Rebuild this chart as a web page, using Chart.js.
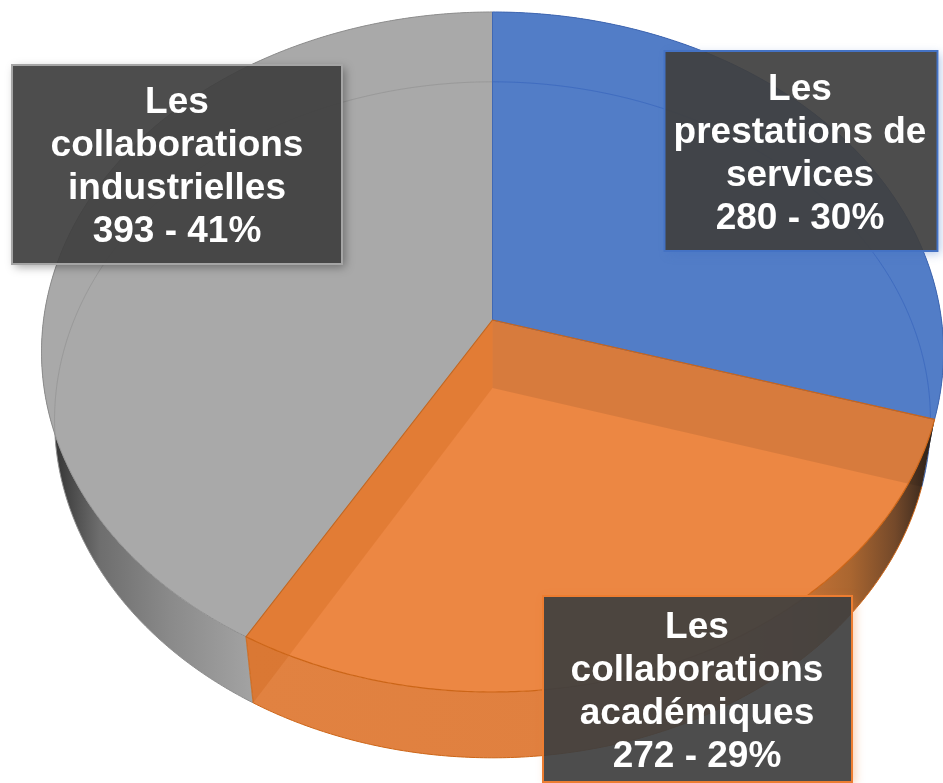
<!DOCTYPE html>
<html lang="fr">
<head>
<meta charset="utf-8">
<style>html,body{margin:0;padding:0;background:#fff;overflow:hidden}canvas{display:block}</style>
<script src="https://cdn.jsdelivr.net/npm/chart.js@4/dist/chart.umd.min.js"></script>
</head>
<body>
<canvas id="c" width="943" height="783"></canvas>
<script>
const categories = ["Les prestations de services", "Les collaborations académiques", "Les collaborations industrielles"];
const values = [280, 272, 393];
const percents = [30, 29, 41];
const labelLines = [["Les", "prestations de", "services"], ["Les", "collaborations", "académiques"], ["Les", "collaborations", "industrielles"]];
const faceColors = ["#527dc7", "#ec8743", "#a9a9a9"];
const edgeColors = ["#4068b4", "#cc6517", "#8e8e8e"];
const boxBorders = ["#4472c4", "#ed7d31", "#a5a5a5"];
const boxes = [[664.5, 51, 273, 200, 800], [543, 596, 309, 186, 697], [12, 65, 330, 199, 177]];
const textTops = [99.5, 638, 113];

// perspective view of the pie disc
const K = -0.0941;
const topDisc = {x: 492.5, y: 320, b: 449, a: 337};
const lowDisc = {x: 492.5, y: 388, b: 436, a: 335};
function project(d, a) {
  const u = Math.cos(a), v = Math.sin(a), w = 1 + K * v;
  return [d.x + d.b * u / w, d.y + d.a * v / w];
}
function rim(ctx, d, a0, a1, first) {
  const n = Math.max(2, Math.ceil(Math.abs(a1 - a0) / 0.008));
  for (let i = 0; i <= n; i++) {
    const p = project(d, a0 + (a1 - a0) * i / n);
    if (i === 0 && first) ctx.moveTo(p[0], p[1]); else ctx.lineTo(p[0], p[1]);
  }
}
function hGrad(ctx, stops) {
  const g = ctx.createLinearGradient(40, 0, 940, 0);
  stops.forEach(s => g.addColorStop((s[0] - 40) / 900, s[1]));
  return g;
}
const wallStops = [
  [[40, "#1f2a44"], [900, "#2a3a60"], [940, "#1a2338"]],
  [[250, "#e18241"], [720, "#e07f3e"], [790, "#cc7638"], [850, "#aa6630"], [895, "#74492a"], [925, "#3b2a1e"], [940, "#2a2018"]],
  [[40, "#2c2c2c"], [62, "#3e3e3e"], [100, "#6e6e6e"], [170, "#8a8a8a"], [250, "#a2a2a2"]]
];
function sector(ctx, d, a0, a1) {
  ctx.beginPath();
  ctx.moveTo(d.x, d.y);
  rim(ctx, d, a0, a1, false);
  ctx.closePath();
}
function radialWall(ctx, a) {
  const t = project(topDisc, a), l = project(lowDisc, a);
  ctx.beginPath();
  ctx.moveTo(topDisc.x, topDisc.y);
  ctx.lineTo(lowDisc.x, lowDisc.y);
  ctx.lineTo(l[0], l[1]);
  ctx.lineTo(t[0], t[1]);
  ctx.closePath();
}

const pie3d = {
  id: "pie3d",
  beforeDatasetDraw(chart, args) {
    const ctx = chart.ctx, arcs = args.meta.data;
    ctx.save();
    ctx.lineJoin = "round";
    // outer side walls
    arcs.forEach((arc, i) => {
      const s = arc.startAngle, e = arc.endAngle;
      ctx.beginPath();
      rim(ctx, topDisc, s, e, true);
      rim(ctx, lowDisc, e, s, false);
      ctx.closePath();
      ctx.fillStyle = hGrad(ctx, wallStops[i]);
      ctx.fill();
      ctx.beginPath();
      rim(ctx, lowDisc, s, e, true);
      ctx.strokeStyle = edgeColors[i];
      ctx.lineWidth = 1;
      ctx.stroke();
    });
    // top faces
    arcs.forEach((arc, i) => {
      sector(ctx, topDisc, arc.startAngle, arc.endAngle);
      ctx.fillStyle = faceColors[i];
      ctx.fill();
    });
    // lower rim seen through the blue and grey faces
    arcs.forEach((arc, i) => {
      if (i === 1) return;
      ctx.save();
      sector(ctx, topDisc, arc.startAngle, arc.endAngle);
      ctx.clip();
      ctx.beginPath();
      rim(ctx, lowDisc, arc.startAngle, arc.endAngle, true);
      ctx.strokeStyle = i === 0 ? "rgba(50,95,185,.55)" : "rgba(130,130,130,.38)";
      ctx.lineWidth = 1;
      ctx.stroke();
      ctx.restore();
    });
    // inner radial walls seen through the orange slice
    const o = arcs[1];
    radialWall(ctx, o.startAngle);
    ctx.fillStyle = "rgba(0,0,0,.085)";
    ctx.fill();
    radialWall(ctx, o.endAngle);
    ctx.fillStyle = "rgba(190,80,0,.2)";
    ctx.fill();
    // edges
    [2, 0, 1].forEach(i => {
      const arc = arcs[i];
      sector(ctx, topDisc, arc.startAngle, arc.endAngle);
      ctx.strokeStyle = edgeColors[i];
      ctx.lineWidth = i === 1 ? 1.2 : 1;
      ctx.stroke();
    });
    const p = project(topDisc, o.endAngle), q = project(lowDisc, o.endAngle);
    ctx.beginPath();
    ctx.moveTo(p[0], p[1]);
    ctx.lineTo(q[0], q[1]);
    ctx.strokeStyle = "rgba(204,101,23,.8)";
    ctx.stroke();
    ctx.restore();
    return false;
  },
  afterDatasetsDraw(chart) {
    const ctx = chart.ctx;
    boxes.forEach((b, i) => {
      const [x, y, w, h, cx] = b;
      ctx.save();
      // shadow, only outside the translucent box
      ctx.beginPath();
      ctx.rect(0, 0, 943, 783);
      ctx.rect(x - 1, y - 1, w + 2, h + 2);
      ctx.clip("evenodd");
      ctx.shadowColor = "rgba(0,0,0,.35)";
      if (i !== 2) ctx.shadowColor = boxBorders[i] + "66";
      ctx.shadowBlur = 9;
      ctx.shadowOffsetX = 3;
      ctx.shadowOffsetY = 3;
      ctx.fillStyle = "#000";
      ctx.fillRect(x, y, w, h);
      ctx.restore();
      ctx.fillStyle = "rgba(64,64,64,.93)";
      ctx.fillRect(x, y, w, h);
      ctx.strokeStyle = boxBorders[i];
      ctx.lineWidth = 2;
      ctx.strokeRect(x, y, w, h);
      ctx.fillStyle = "#fff";
      ctx.font = 'bold 37px "Liberation Sans", Arial, sans-serif';
      ctx.textAlign = "center";
      ctx.textBaseline = "alphabetic";
      const lines = labelLines[i].concat(values[i] + " - " + percents[i] + "%");
      lines.forEach((t, j) => ctx.fillText(t, cx, textTops[i] + j * 43));
    });
  }
};

new Chart(document.getElementById("c"), {
  type: "pie",
  data: {
    labels: categories,
    datasets: [{data: values, backgroundColor: faceColors, borderColor: edgeColors, borderWidth: 1}]
  },
  options: {
    responsive: false,
    animation: false,
    layout: {padding: 0},
    plugins: {legend: {display: false}, tooltip: {enabled: false}, title: {display: false}}
  },
  plugins: [pie3d]
});
</script>
</body>
</html>
